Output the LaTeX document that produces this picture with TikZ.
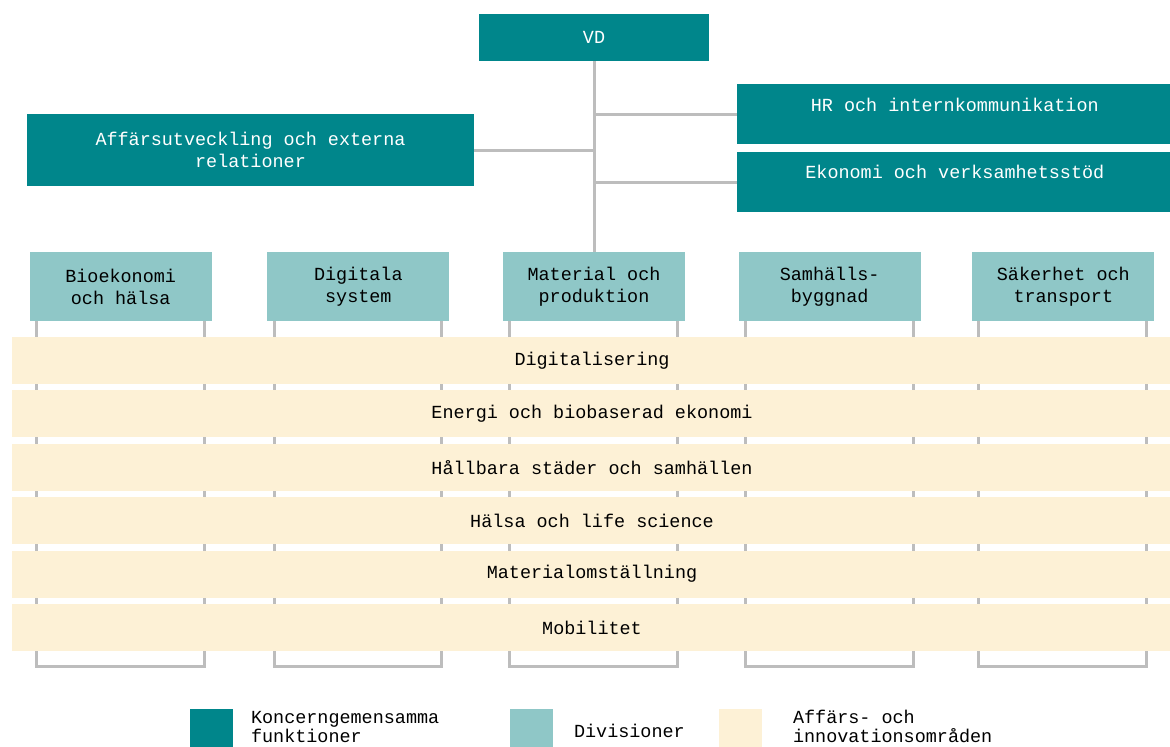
\documentclass[tikz,border=0pt]{standalone}
\usepackage{fontspec}
\setmonofont{Liberation Mono}
\usetikzlibrary{positioning}
\definecolor{petrol}{HTML}{00868B}
\definecolor{ljusteal}{HTML}{8FC7C7}
\definecolor{sand}{HTML}{FDF1D6}
\definecolor{linje}{HTML}{BDBDBD}
\begin{document}
\begin{tikzpicture}[x=0.02cm,y=-0.02cm,
                    every node/.style={font=\ttfamily\fontsize{10.5}{12.5}\selectfont,inner sep=0pt},
                    funk/.style={fill=petrol,text=white,align=center},
                    div/.style={fill=ljusteal,align=center,minimum width=3.64cm,minimum height=1.38cm},
                    omr/.style={fill=sand,minimum width=23.2cm,minimum height=0.94cm},
                    ruta/.style={minimum width=0.86cm,minimum height=0.86cm,anchor=north west},
                    forklaring/.style={align=left,font=\ttfamily\fontsize{10.5}{10.8}\selectfont},
                    link/.style={draw=linje,line width=0.06cm}]
                    \useasboundingbox (0,0) rectangle (1170,747);
                    \node[funk,minimum width=4.62cm,minimum height=0.94cm] (vd) at (594,37.5) {VD};
                    \node[funk,minimum width=8.7cm,minimum height=1.2cm,anchor=north west,
                          label={[anchor=center,yshift=-0.42cm,text=white]north:HR och internkommunikation}] (hr) at (737,84) {};
                    \node[funk,minimum width=8.7cm,minimum height=1.2cm,anchor=north west,
                          label={[anchor=center,yshift=-0.4cm,text=white]north:Ekonomi och verksamhetsstöd}] (eko) at (737,152) {};
                    \node[funk,minimum width=8.94cm,minimum height=1.44cm] (aff) at (250.5,150) {Affärsutveckling och externa\\relationer};
                    \node[div] (mat) at (594,286.5) {Material och\\produktion};
                    \node[div,left=1.06cm of mat] (dig) {Digitala\\system};
                    \node[div,left=1.1cm of dig] (bio) {Bioekonomi\\och hälsa};
                    \node[div,right=1.06cm of mat] (sam) {Samhälls-\\byggnad};
                    \node[div,right=1.02cm of sam] (sak) {Säkerhet och\\transport};
                    \draw[link] (vd.south) -- (mat.north);
                    \draw[link] (vd.south |- hr.west) -- (hr.west);
                    \draw[link] (vd.south |- eko.west) -- (eko.west);
                    \draw[link] (vd.south |- aff.east) -- (aff.east);
                    \foreach \d in {bio,dig,mat,sam,sak}
                        \draw[link] ([xshift=0.14cm]\d.south west) -- ++(0,345) -| ([xshift=-0.16cm]\d.south east);
                    \foreach \t [count=\i] in {Digitalisering,Energi och biobaserad ekonomi,H{\aa}llbara st{\"a}der och samh{\"a}llen,
                                               H{\"a}lsa och life science,Materialomst{\"a}llning,Mobilitet}
                        \node[omr] (r\i) at (592,307.1+53.4*\i) {\t};
                    \node[ruta,fill=petrol] (lk) at (190,709) {};
                    \node[forklaring,right=0.34cm of lk,yshift=0.08cm] (tk) {Koncerngemensamma\\funktioner};
                    \node[ruta,fill=ljusteal] (ld) at (510,709) {};
                    \node[forklaring,right=0.4cm of ld] (td) {Divisioner};
                    \node[ruta,fill=sand] (la) at (719,709) {};
                    \node[forklaring,right=0.6cm of la,yshift=0.08cm] (ta) {Affärs- och\\innovationsområden};
\end{tikzpicture}
\end{document}
